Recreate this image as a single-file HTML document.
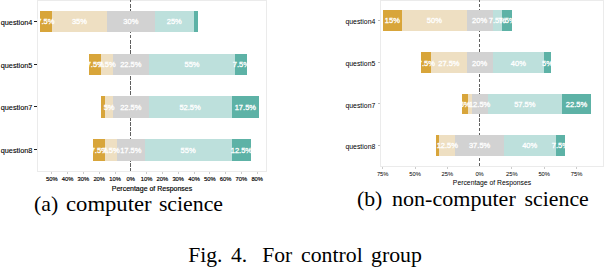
<!DOCTYPE html>
<html><head><meta charset="utf-8"><style>
html,body{margin:0;padding:0;background:#fff;}
body{width:604px;height:268px;position:relative;overflow:hidden;font-family:"Liberation Sans",sans-serif;}
div{position:absolute;white-space:nowrap;}
.bd{box-sizing:content-box;border:1px solid #EBEBEB;}
.dash{width:1px;}
.bl{color:#fff;font-size:7.5px;font-weight:normal;-webkit-text-stroke:0.3px #fff;line-height:0;transform:translateX(-50%) scaleX(1.0);}
.yt{width:2.6px;height:1px;background:#222;}
.yt.pr{background:#bbb;}
.yl{color:#000;font-size:7.3px;line-height:0;-webkit-text-stroke:0.1px #000;}
.yl.pr{font-size:6.9px;-webkit-text-stroke:0;}
.xt{width:1px;height:1.8px;background:#ccc;}
.xl{color:#000;font-size:5.8px;line-height:0;-webkit-text-stroke:0.15px #000;transform:translateX(-50%);}
.xtit{color:#000;font-size:6.3px;line-height:0;-webkit-text-stroke:0.15px #000;transform:translateX(-50%) scaleX(1.11);}
.xtit.pr{transform:translateX(-50%) scaleX(1.08);-webkit-text-stroke:0;}
.xl.pr{-webkit-text-stroke:0;}
.cap{font-family:"Liberation Serif",serif;color:#000;line-height:0;transform-origin:0 0;}
</style></head><body>
<div class="bd" style="left:36.50px;top:-0.50px;width:228.60px;height:170.80px"></div>
<div class="dash" style="left:130.10px;top:0.00px;height:171.30px;background:repeating-linear-gradient(to bottom,#606060 0px,#606060 2.46px,transparent 2.46px,transparent 4.00px,#606060 4.00px,#606060 5.14px)"></div>
<div style="left:39.95px;top:10.90px;width:158.00px;height:20.90px;background:#D8A53A"></div>
<div style="left:51.80px;top:10.90px;width:146.15px;height:20.90px;background:#EEDFC2"></div>
<div style="left:107.10px;top:10.90px;width:90.85px;height:20.90px;background:#D2D2D2"></div>
<div style="left:154.50px;top:10.90px;width:43.45px;height:20.90px;background:#BDE0DC"></div>
<div style="left:194.00px;top:10.90px;width:3.95px;height:20.90px;background:#5DB2A6"></div>
<div class="bl pl" style="left:45.88px;top:22.35px">7.5%</div>
<div class="bl pl" style="left:79.45px;top:22.35px">35%</div>
<div class="bl pl" style="left:130.80px;top:22.35px">30%</div>
<div class="bl pl" style="left:174.25px;top:22.35px">25%</div>
<div class="yt pl" style="left:34.20px;top:20.85px"></div>
<div class="yl pl" style="right:571.60px;top:22.85px">question4</div>
<div style="left:89.33px;top:54.00px;width:158.00px;height:20.90px;background:#D8A53A"></div>
<div style="left:101.18px;top:54.00px;width:146.15px;height:20.90px;background:#EEDFC2"></div>
<div style="left:113.03px;top:54.00px;width:134.30px;height:20.90px;background:#D2D2D2"></div>
<div style="left:148.58px;top:54.00px;width:98.75px;height:20.90px;background:#BDE0DC"></div>
<div style="left:235.48px;top:54.00px;width:11.85px;height:20.90px;background:#5DB2A6"></div>
<div class="bl pl" style="left:95.25px;top:65.45px">7.5%</div>
<div class="bl pl" style="left:107.10px;top:65.45px">7.5%</div>
<div class="bl pl" style="left:130.80px;top:65.45px">22.5%</div>
<div class="bl pl" style="left:192.03px;top:65.45px">55%</div>
<div class="bl pl" style="left:241.40px;top:65.45px">7.5%</div>
<div class="yt pl" style="left:34.20px;top:63.95px"></div>
<div class="yl pl" style="right:571.60px;top:65.95px">question5</div>
<div style="left:101.18px;top:95.80px;width:158.00px;height:22.00px;background:#D8A53A"></div>
<div style="left:105.13px;top:95.80px;width:154.05px;height:22.00px;background:#EEDFC2"></div>
<div style="left:113.03px;top:95.80px;width:146.15px;height:22.00px;background:#D2D2D2"></div>
<div style="left:148.58px;top:95.80px;width:110.60px;height:22.00px;background:#BDE0DC"></div>
<div style="left:231.53px;top:95.80px;width:27.65px;height:22.00px;background:#5DB2A6"></div>
<div class="bl pl" style="left:109.08px;top:107.80px">5%</div>
<div class="bl pl" style="left:130.80px;top:107.80px">22.5%</div>
<div class="bl pl" style="left:190.05px;top:107.80px">52.5%</div>
<div class="bl pl" style="left:245.35px;top:107.80px">17.5%</div>
<div class="yt pl" style="left:34.20px;top:106.30px"></div>
<div class="yl pl" style="right:571.60px;top:108.30px">question7</div>
<div style="left:93.28px;top:139.00px;width:158.00px;height:21.80px;background:#D8A53A"></div>
<div style="left:105.12px;top:139.00px;width:146.15px;height:21.80px;background:#EEDFC2"></div>
<div style="left:116.97px;top:139.00px;width:134.30px;height:21.80px;background:#D2D2D2"></div>
<div style="left:144.62px;top:139.00px;width:106.65px;height:21.80px;background:#BDE0DC"></div>
<div style="left:231.53px;top:139.00px;width:19.75px;height:21.80px;background:#5DB2A6"></div>
<div class="bl pl" style="left:99.20px;top:150.90px">7.5%</div>
<div class="bl pl" style="left:111.05px;top:150.90px">7.5%</div>
<div class="bl pl" style="left:130.80px;top:150.90px">17.5%</div>
<div class="bl pl" style="left:188.07px;top:150.90px">55%</div>
<div class="bl pl" style="left:241.40px;top:150.90px">12.5%</div>
<div class="yt pl" style="left:34.20px;top:149.40px"></div>
<div class="yl pl" style="right:571.60px;top:151.40px">question8</div>
<div class="xt" style="left:51.30px;top:172.10px"></div>
<div class="xl pl" style="left:51.80px;top:179.20px">50%</div>
<div class="xt" style="left:67.10px;top:172.10px"></div>
<div class="xl pl" style="left:67.60px;top:179.20px">40%</div>
<div class="xt" style="left:82.90px;top:172.10px"></div>
<div class="xl pl" style="left:83.40px;top:179.20px">30%</div>
<div class="xt" style="left:98.70px;top:172.10px"></div>
<div class="xl pl" style="left:99.20px;top:179.20px">20%</div>
<div class="xt" style="left:114.50px;top:172.10px"></div>
<div class="xl pl" style="left:115.00px;top:179.20px">10%</div>
<div class="xl pl" style="left:130.80px;top:179.20px">0%</div>
<div class="xt" style="left:146.10px;top:172.10px"></div>
<div class="xl pl" style="left:146.60px;top:179.20px">10%</div>
<div class="xt" style="left:161.90px;top:172.10px"></div>
<div class="xl pl" style="left:162.40px;top:179.20px">20%</div>
<div class="xt" style="left:177.70px;top:172.10px"></div>
<div class="xl pl" style="left:178.20px;top:179.20px">30%</div>
<div class="xt" style="left:193.50px;top:172.10px"></div>
<div class="xl pl" style="left:194.00px;top:179.20px">40%</div>
<div class="xt" style="left:209.30px;top:172.10px"></div>
<div class="xl pl" style="left:209.80px;top:179.20px">50%</div>
<div class="xt" style="left:225.10px;top:172.10px"></div>
<div class="xl pl" style="left:225.60px;top:179.20px">60%</div>
<div class="xt" style="left:240.90px;top:172.10px"></div>
<div class="xl pl" style="left:241.40px;top:179.20px">70%</div>
<div class="xt" style="left:256.70px;top:172.10px"></div>
<div class="xl pl" style="left:257.20px;top:179.20px">80%</div>
<div class="xtit pl" style="left:151.80px;top:188.70px">Percentage of Responses</div>
<div class="bd" style="left:380.10px;top:-0.50px;width:221.80px;height:165.90px"></div>
<div class="dash" style="left:479.00px;top:0.00px;height:166.40px;background:repeating-linear-gradient(to bottom,#606060 0px,#606060 2.23px,transparent 2.23px,transparent 4.00px,#606060 4.00px,#606060 4.97px)"></div>
<div style="left:382.70px;top:10.00px;width:129.20px;height:20.75px;background:#D8A53A"></div>
<div style="left:402.08px;top:10.00px;width:109.82px;height:20.75px;background:#EEDFC2"></div>
<div style="left:466.68px;top:10.00px;width:45.22px;height:20.75px;background:#D2D2D2"></div>
<div style="left:492.52px;top:10.00px;width:19.38px;height:20.75px;background:#BDE0DC"></div>
<div style="left:502.21px;top:10.00px;width:9.69px;height:20.75px;background:#5DB2A6"></div>
<div class="bl pr" style="left:392.39px;top:21.38px">15%</div>
<div class="bl pr" style="left:434.38px;top:21.38px">50%</div>
<div class="bl pr" style="left:479.60px;top:21.38px">20%</div>
<div class="bl pr" style="left:497.37px;top:21.38px">7.5%</div>
<div class="bl pr" style="left:507.06px;top:21.38px">7.5%</div>
<div class="yt pr" style="left:377.80px;top:19.88px"></div>
<div class="yl pr" style="right:228.70px;top:22.18px">question4</div>
<div style="left:421.46px;top:52.10px;width:129.20px;height:20.90px;background:#D8A53A"></div>
<div style="left:431.15px;top:52.10px;width:119.51px;height:20.90px;background:#EEDFC2"></div>
<div style="left:466.68px;top:52.10px;width:83.98px;height:20.90px;background:#D2D2D2"></div>
<div style="left:492.52px;top:52.10px;width:58.14px;height:20.90px;background:#BDE0DC"></div>
<div style="left:544.20px;top:52.10px;width:6.46px;height:20.90px;background:#5DB2A6"></div>
<div class="bl pr" style="left:426.31px;top:63.55px">7.5%</div>
<div class="bl pr" style="left:448.92px;top:63.55px">27.5%</div>
<div class="bl pr" style="left:479.60px;top:63.55px">20%</div>
<div class="bl pr" style="left:518.36px;top:63.55px">40%</div>
<div class="bl pr" style="left:547.43px;top:63.55px">5%</div>
<div class="yt pr" style="left:377.80px;top:62.05px"></div>
<div class="yl pr" style="right:228.70px;top:64.35px">question5</div>
<div style="left:461.84px;top:93.90px;width:129.20px;height:19.90px;background:#D8A53A"></div>
<div style="left:468.30px;top:93.90px;width:122.74px;height:19.90px;background:#EEDFC2"></div>
<div style="left:471.53px;top:93.90px;width:119.51px;height:19.90px;background:#D2D2D2"></div>
<div style="left:487.68px;top:93.90px;width:103.36px;height:19.90px;background:#BDE0DC"></div>
<div style="left:561.97px;top:93.90px;width:29.07px;height:19.90px;background:#5DB2A6"></div>
<div class="bl pr" style="left:465.07px;top:104.85px">5%</div>
<div class="bl pr" style="left:479.60px;top:104.85px">12.5%</div>
<div class="bl pr" style="left:524.82px;top:104.85px">57.5%</div>
<div class="bl pr" style="left:576.50px;top:104.85px">22.5%</div>
<div class="yt pr" style="left:377.80px;top:103.35px"></div>
<div class="yl pr" style="right:228.70px;top:105.65px">question7</div>
<div style="left:436.00px;top:135.00px;width:129.20px;height:20.75px;background:#D8A53A"></div>
<div style="left:439.23px;top:135.00px;width:125.97px;height:20.75px;background:#EEDFC2"></div>
<div style="left:455.38px;top:135.00px;width:109.82px;height:20.75px;background:#D2D2D2"></div>
<div style="left:503.82px;top:135.00px;width:61.37px;height:20.75px;background:#BDE0DC"></div>
<div style="left:555.50px;top:135.00px;width:9.69px;height:20.75px;background:#5DB2A6"></div>
<div class="bl pr" style="left:447.30px;top:146.38px">12.5%</div>
<div class="bl pr" style="left:479.60px;top:146.38px">37.5%</div>
<div class="bl pr" style="left:529.66px;top:146.38px">40%</div>
<div class="bl pr" style="left:560.35px;top:146.38px">7.5%</div>
<div class="yt pr" style="left:377.80px;top:144.88px"></div>
<div class="yl pr" style="right:228.70px;top:147.18px">question8</div>
<div class="xt" style="left:382.20px;top:167.20px"></div>
<div class="xl pr" style="left:382.70px;top:174.10px">75%</div>
<div class="xt" style="left:414.50px;top:167.20px"></div>
<div class="xl pr" style="left:415.00px;top:174.10px">50%</div>
<div class="xt" style="left:446.80px;top:167.20px"></div>
<div class="xl pr" style="left:447.30px;top:174.10px">25%</div>
<div class="xl pr" style="left:479.60px;top:174.10px">0%</div>
<div class="xt" style="left:511.40px;top:167.20px"></div>
<div class="xl pr" style="left:511.90px;top:174.10px">25%</div>
<div class="xt" style="left:543.70px;top:167.20px"></div>
<div class="xl pr" style="left:544.20px;top:174.10px">50%</div>
<div class="xt" style="left:576.00px;top:167.20px"></div>
<div class="xl pr" style="left:576.50px;top:174.10px">75%</div>
<div class="xtit pr" style="left:492.00px;top:183.20px">Percentage of Responses</div>
<div class="cap" style="left:34.00px;top:204.30px;font-size:21.8px">(a)</div>
<div class="cap" style="left:65.80px;top:204.30px;font-size:21.8px;transform:scaleX(1.04)">computer</div>
<div class="cap" style="left:158.90px;top:204.30px;font-size:21.8px">science</div>
<div class="cap" style="left:356.90px;top:199.30px;font-size:21.8px">(b)</div>
<div class="cap" style="left:392.20px;top:199.30px;font-size:21.8px;transform:scaleX(1.012)">non-computer</div>
<div class="cap" style="left:524.60px;top:199.30px;font-size:21.8px">science</div>
<div class="cap" style="left:188.30px;top:255.00px;font-size:21.6px">Fig.</div>
<div class="cap" style="left:231.00px;top:255.00px;font-size:21.6px">4.</div>
<div class="cap" style="left:262.20px;top:255.00px;font-size:21.6px">For</div>
<div class="cap" style="left:300.80px;top:255.00px;font-size:21.6px;transform:scaleX(1.01)">control</div>
<div class="cap" style="left:371.40px;top:255.00px;font-size:21.6px;transform:scaleX(1.01)">group</div>
</body></html>
